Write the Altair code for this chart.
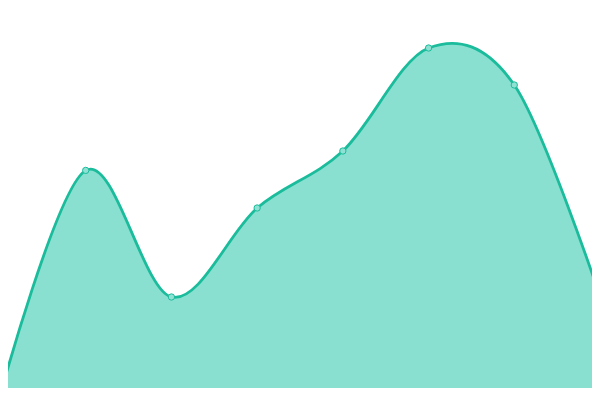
import altair as alt
import pandas as pd

idx = [0, 1, 2, 3, 4, 5, 6, 7]
values = [1.0, 57.4, 25.75, 48.0, 62.25, 88.0, 78.75, 25.9]

df = pd.DataFrame({"i": idx, "v": values})

LINE = "#1abc9c"
FILL = "#89e0d0"
POINT_FILL = "#8fe2d3"

x = alt.X("i:Q", axis=None, scale=alt.Scale(domain=[0, 7], nice=False, zero=False))
y = alt.Y("v:Q", axis=None, scale=alt.Scale(domain=[0, 100], nice=False))

base = alt.Chart(df).encode(x=x, y=y)

area = base.mark_area(interpolate="cardinal", color=FILL, opacity=1)
line = base.mark_line(interpolate="cardinal", color=LINE, strokeWidth=2.8)
pts = base.mark_point(filled=True, fill=POINT_FILL, stroke=LINE, strokeWidth=1, size=40, opacity=1)

chart = alt.layer(area, line, pts).properties(
    width=600, height=400,
    padding={"left": -8, "top": -8, "right": -8, "bottom": -12},
    autosize=alt.AutoSizeParams(type="none")
).configure_view(stroke=None)

chart.save("out.html", embed_options={"renderer": "svg", "actions": False})
